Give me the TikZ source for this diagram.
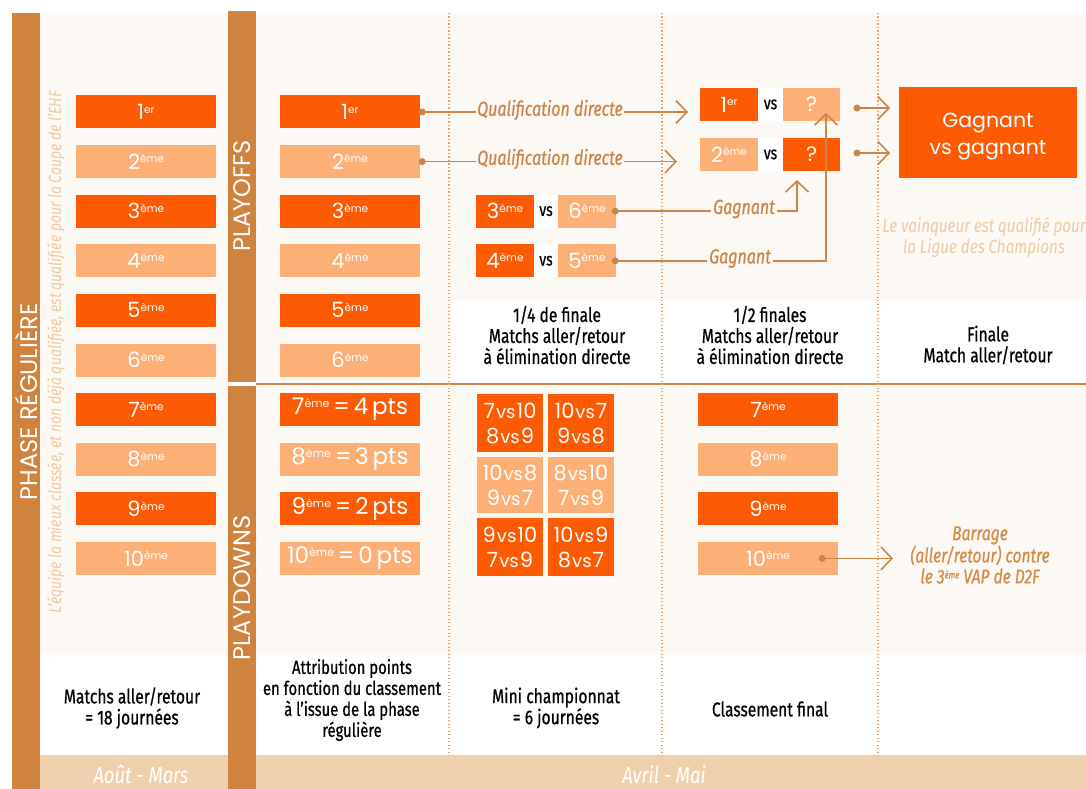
\documentclass[tikz,border=0pt]{standalone}
\usepackage{fontspec}
\setmainfont{Poppins}
\newfontfamily\cond[FakeStretch=0.8]{Fira Sans}
\newfontfamily\condm[FakeStretch=0.78,FakeBold=0.6]{Fira Sans}
\usetikzlibrary{arrows.meta,calc}
\definecolor{dkor}{HTML}{FC5A03}
\definecolor{ltor}{HTML}{FCB077}
\definecolor{brn}{HTML}{D0823F}
\definecolor{cream}{HTML}{FCF8F4}
\definecolor{band}{HTML}{EECFAE}
\definecolor{lc}{HTML}{CB8549}
\definecolor{dotc}{HTML}{E6A36B}
\definecolor{pale}{HTML}{EDCAA6}
\definecolor{barc}{HTML}{D38B46}
\newcommand\ordn[2]{{\fontsize{21}{21}\selectfont #1}\raisebox{6.5pt}{\fontsize{10.5}{10.5}\selectfont #2}}
\newcommand\ptsn[3]{{\fontsize{23}{23}\selectfont #1}\raisebox{7pt}{\fontsize{11}{11}\selectfont #2}{\fontsize{23}{23}\selectfont\,=\,#3\,pts}}
\newcommand\gvs[2]{#1\kern1pt{\fontsize{18}{18}\selectfont vs}\kern1pt#2}
\tikzset{
  rk/.style={minimum width=140, minimum height=33, inner sep=0, text=white},
  dk/.style={rk, fill=dkor},
  lt/.style={rk, fill=ltor},
  half/.style={minimum width=58, minimum height=33, inner sep=0, text=white},
  vsbox/.style={minimum width=25, minimum height=33, inner sep=0, fill=white, font=\condm\fontsize{18}{18}\selectfont},
  gridbox/.style={minimum width=66, inner sep=0, text=white, align=center, font=\fontsize{21}{25}\selectfont},
  lab/.style={inner sep=1.5pt, text=lc, font=\condm\itshape\fontsize{20.5}{20.5}\selectfont},
  conn/.style={lc, line width=1.6},
  arr/.style={lc, line width=1.6, -{Straight Barb[length=11pt, width=23pt]}},
  dot/.style={fill=lc},
  head/.style={align=center, text=black, font=\condm\fontsize{20}{21}\selectfont},
  vert/.style={rotate=90, text=white, font=\fontsize{24}{24}\selectfont},
}
\begin{document}
\begin{tikzpicture}[x=1pt,y=-1pt]
\useasboundingbox (0,0) rectangle (1086,789);
\fill[white] (0,0) rectangle (1086,789);
% backgrounds
\fill[cream] (40,13) rectangle (228,655);
\fill[cream] (256,13) rectangle (1086,655);
\fill[band] (40,755) rectangle (228,789);
\fill[band] (256,755) rectangle (1086,789);
\fill[white] (449,300) rectangle (1086,383);
\fill[brn] (12,13) rectangle (40,789);
\fill[brn] (228,11) rectangle (256,382);
\fill[brn] (228,386) rectangle (256,789);
\draw[lc, line width=1.4] (256,384) -- (1086,384);
\foreach \xx in {449,662,878}
  \draw[dotc, line width=1.3, dash pattern=on 1.3pt off 2.2pt] (\xx,13) -- (\xx,755);

% vertical titles
\node[vert] (tphase) at (26,402) {PHASE RÉGULIÈRE};
\node[vert] (tpo) at (242,196) {PLAYOFFS};
\node[vert] (tpd) at (242,588) {PLAYDOWNS};
\node[rotate=90, text=pale, font=\cond\itshape\fontsize{17.5}{17.5}\selectfont] (tehf) at (56,352)
  {L’équipe la mieux classée, et non déjà qualifiée, est qualifiée pour la Coupe de l’EHF};

% regular phase
\node[dk] (l1) at (146,112) {\ordn{1}{er}};
\node[lt] (l2) at (146,161.6) {\ordn{2}{ème}};
\node[dk] (l3) at (146,211.2) {\ordn{3}{ème}};
\node[lt] (l4) at (146,260.8) {\ordn{4}{ème}};
\node[dk] (l5) at (146,310.4) {\ordn{5}{ème}};
\node[lt] (l6) at (146,360) {\ordn{6}{ème}};
\node[dk] (l7) at (146,409.6) {\ordn{7}{ème}};
\node[lt] (l8) at (146,459.2) {\ordn{8}{ème}};
\node[dk] (l9) at (146,508.8) {\ordn{9}{ème}};
\node[lt] (l10) at (146,558.4) {\ordn{10}{ème}};

% playoffs column 1
\node[dk] (c1) at (350,112) {\ordn{1}{er}};
\node[lt] (c2) at (350,161.6) {\ordn{2}{ème}};
\node[dk] (c3) at (350,211.2) {\ordn{3}{ème}};
\node[lt] (c4) at (350,260.8) {\ordn{4}{ème}};
\node[dk] (c5) at (350,310.4) {\ordn{5}{ème}};
\node[lt] (c6) at (350,360) {\ordn{6}{ème}};

% playdowns column 1
\node[dk] (d7) at (350,409.6) {\ptsn{7}{ème}{4}};
\node[lt] (d8) at (350,459.2) {\ptsn{8}{ème}{3}};
\node[dk] (d9) at (350,508.8) {\ptsn{9}{ème}{2}};
\node[lt] (d10) at (350,558.4) {\ptsn{10}{ème}{0}};

% quarter finals
\node[half, fill=dkor] (q3) at (505,211.2) {\ordn{3}{ème}};
\node[vsbox] (qv1) at (546,211.2) {vs};
\node[half, fill=ltor] (q6) at (587,211.2) {\ordn{6}{ème}};
\node[half, fill=dkor] (q4) at (505,260.8) {\ordn{4}{ème}};
\node[vsbox] (qv2) at (546,260.8) {vs};
\node[half, fill=ltor] (q5) at (587,260.8) {\ordn{5}{ème}};

% semi finals
\node[half, fill=dkor] (s1) at (729,104.5) {\ordn{1}{er}};
\node[vsbox] (sv1) at (770.5,104.5) {vs};
\node[half, fill=ltor, minimum width=57] (sq1) at (811.5,104.5) {\fontsize{21}{21}\selectfont ?};
\node[half, fill=ltor] (s2) at (729,154.5) {\ordn{2}{ème}};
\node[vsbox] (sv2) at (770.5,154.5) {vs};
\node[half, fill=dkor, minimum width=57] (sq2) at (811.5,154.5) {\fontsize{21}{21}\selectfont ?};

% final
\node[fill=dkor, minimum width=178, minimum height=91, inner sep=0] (fin) at (988,132.5) {};
\node[text=white, align=center, font=\fontsize{20.5}{27}\selectfont] (fint) at (988,137) {Gagnant\\vs gagnant};
\node[text=pale, align=center, font=\cond\itshape\fontsize{19}{21}\selectfont] (champ) at (984,237)
  {Le vainqueur est qualifié pour\\la Ligue des Champions};

% mini championnat grid
\node[gridbox, fill=dkor, minimum height=58] (g1) at (510,423) {\gvs{7}{10}\\\gvs{8}{9}};
\node[gridbox, fill=dkor, minimum height=58] (g2) at (581,423) {\gvs{10}{7}\\\gvs{9}{8}};
\node[gridbox, fill=ltor, minimum height=56] (g3) at (510,485) {\gvs{10}{8}\\\gvs{9}{7}};
\node[gridbox, fill=ltor, minimum height=56] (g4) at (581,485) {\gvs{8}{10}\\\gvs{7}{9}};
\node[gridbox, fill=dkor, minimum height=58] (g5) at (510,547) {\gvs{9}{10}\\\gvs{7}{9}};
\node[gridbox, fill=dkor, minimum height=58] (g6) at (581,547) {\gvs{10}{9}\\\gvs{8}{7}};

% classement final
\node[dk] (p7) at (768,409.6) {\ordn{7}{ème}};
\node[lt] (p8) at (768,459.2) {\ordn{8}{ème}};
\node[dk] (p9) at (768,508.8) {\ordn{9}{ème}};
\node[lt] (p10) at (768,558.4) {\ordn{10}{ème}};
\node[text=barc, align=center, font=\condm\itshape\fontsize{20}{21}\selectfont] (barr) at (980,555)
  {Barrage\\(aller/retour) contre\\le 3\raisebox{5pt}{\fontsize{10}{10}\selectfont ème} VAP de D2F};

% connectors
\node[lab] (qd1) at (550,110) {Qualification directe};
\node[lab] (qd2) at (550,159) {Qualification directe};
\coordinate (t1) at (688,112);
\coordinate (t2) at (677,161.6);
\fill[dot] ($(c1.east)+(2,0)$) circle (3.5pt);
\fill[dot] ($(c2.east)+(2,0)$) circle (3.5pt);
\draw[conn] (c1.east) -- (c1.east -| qd1.west);
\draw[arr] (qd1.east |- c1.east) -- (t1);
\draw[conn] (c2.east) -- (c2.east -| qd2.west);
\draw[arr] (qd2.east |- c2.east) -- (t2);

\node[lab] (ga1) at (744,209) {Gagnant};
\node[lab] (ga2) at (740,258.5) {Gagnant};
\coordinate (k3) at (797,211.2);
\coordinate (t3) at (797,180);
\coordinate (k4) at (826,260.8);
\coordinate (t4) at (826,113);
\fill[dot] ($(q6.east)+(-1,0)$) circle (3.5pt);
\fill[dot] ($(q5.east)+(-1,0)$) circle (3.5pt);
\draw[conn] (q6.east) -- (q6.east -| ga1.west);
\draw[arr] (ga1.east |- q6.east) -- (k3) -- (t3);
\draw[conn] (q5.east) -- (q5.east -| ga2.west);
\draw[arr] (ga2.east |- q5.east) -- (k4) -- (t4);

\coordinate (f1) at (857,108);
\coordinate (ft1) at (890,108);
\coordinate (f2) at (857,153);
\coordinate (ft2) at (890,153);
\fill[dot] (f1) circle (3.5pt);
\fill[dot] (f2) circle (3.5pt);
\draw[arr] (f1) -- (ft1);
\draw[arr] (f2) -- (ft2);

\coordinate (b0) at ($(p10.east)+(-16,0)$);
\coordinate (bt) at (893,558.4);
\fill[dot] (b0) circle (3.5pt);
\draw[arr] (b0) -- (bt);

% headers
\node[head] (h1) at (557,335) {1/4 de finale\\Matchs aller/retour\\à élimination directe};
\node[head] (h2) at (770,335) {1/2 finales\\Matchs aller/retour\\à élimination directe};
\node[head] (h3) at (988,345) {Finale\\Match aller/retour};

% bottom texts
\node[head] (b1) at (132,708) {Matchs aller/retour\\= 18 journées};
\node[head, font=\condm\fontsize{19}{21}\selectfont] (b2) at (352,700)
  {Attribution points\\en fonction du classement\\à l’issue de la phase\\régulière};
\node[head] (b3) at (556,708) {Mini championnat\\= 6 journées};
\node[head] (b4) at (770,709) {Classement final};
\node[text=white, font=\cond\itshape\fontsize{23}{23}\selectfont] (m1) at (141,775) {Août - Mars};
\node[text=white, font=\cond\itshape\fontsize{23}{23}\selectfont] (m2) at (664,775) {Avril - Mai};
\end{tikzpicture}
\end{document}
